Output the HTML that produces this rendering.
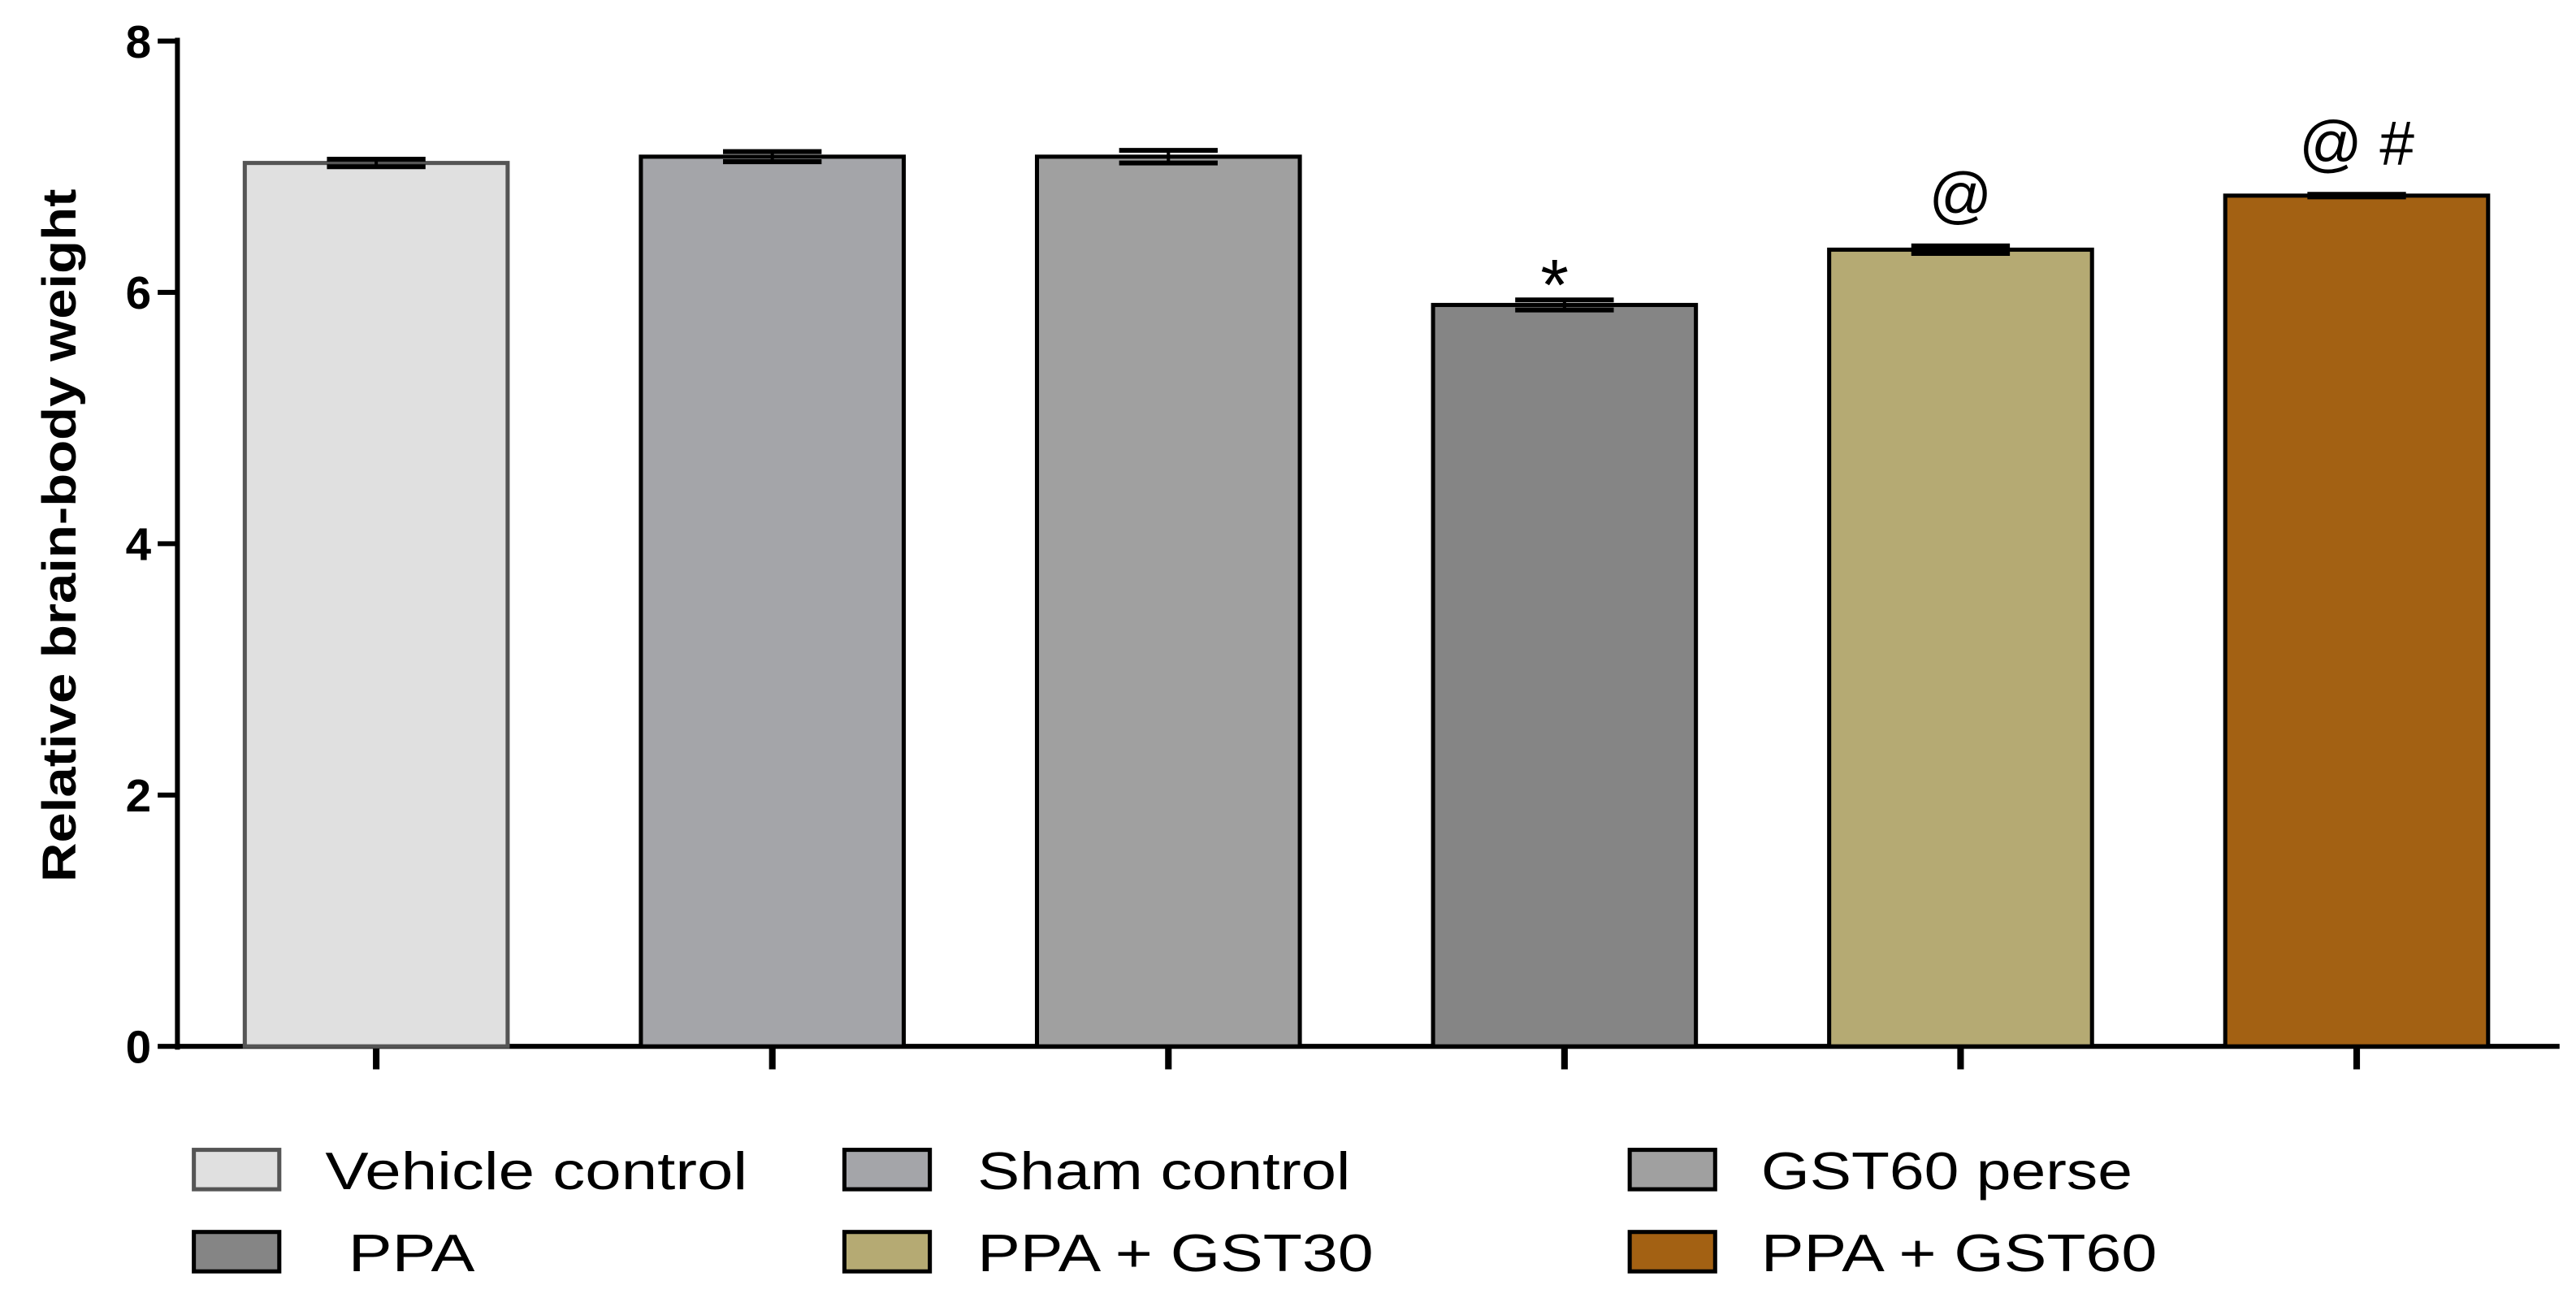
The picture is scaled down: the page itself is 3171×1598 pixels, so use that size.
<!DOCTYPE html>
<html><head><meta charset="utf-8"><style>
html,body{margin:0;padding:0;background:#fff;}
svg{display:block;}
text{font-family:"Liberation Sans",Arial,sans-serif;}
</style></head><body>
<svg id="chart" width="3171" height="1598" viewBox="0 0 1568 790.2" preserveAspectRatio="none" xmlns="http://www.w3.org/2000/svg">
<g id="axes"></g><g id="bars"></g><g id="legend"></g>
</svg>
<script>
const categories = ["Vehicle control","Sham control","GST60 perse","PPA","PPA + GST30","PPA + GST60"];
const values = [7.03, 7.08, 7.08, 5.90, 6.34, 6.77];
const errors = [0.03, 0.04, 0.05, 0.04, 0.03, 0.01];
const annotations = ["", "", "", "*", "@", "@ #"];
const colors = ["#e0e0e0","#a4a5a9","#a0a0a0","#858585","#b5aa73","#a36113"];
const yTicks = [0, 2, 4, 6, 8];
const legendOrder = [0,1,2,3,4,5];
const legendWidths = [257, 227, 226, 77, 241, 241];

const NS = "http://www.w3.org/2000/svg";
const y0 = 637, y8 = 25, xAxis0 = 108, xAxis1 = 1558;
const yS = v => y0 - (y0 - y8) * v / 8;
const barX = i => 149 + i * 241.1;
const barW = 160;
function mk(tag, attrs, parent, txt){
  const e = document.createElementNS(NS, tag);
  for (const k in attrs) e.setAttribute(k, attrs[k]);
  if (txt !== undefined) e.textContent = txt;
  parent.appendChild(e); return e;
}
const axes = document.getElementById('axes');
const bars = document.getElementById('bars');
const legend = document.getElementById('legend');

const ya = mk('line',{x1:xAxis0,y1:y8-2,x2:xAxis0,y2:y0+2,stroke:'#000','stroke-width':3},axes);
 
const xa = mk('line',{x1:xAxis0,y1:y0,x2:xAxis1,y2:y0,stroke:'#000','stroke-width':3},axes);
 
yTicks.forEach(t=>{
  const y = yS(t);
  mk('line',{x1:xAxis0-12,y1:y,x2:xAxis0,y2:y,stroke:'#000','stroke-width':3},axes);
  const tl = mk('text',{x:xAxis0-16,y:y+10,'text-anchor':'end','font-size':28,'font-weight':'bold'},axes,String(t));
   
});
const yt = mk('text',{x:0,y:0,transform:'translate(46,326) rotate(-90)','text-anchor':'middle','font-size':29,'font-weight':'bold',textLength:422,lengthAdjust:'spacingAndGlyphs'},axes,'Relative brain-body weight');
 

values.forEach((v,i)=>{
  const x = barX(i), y = yS(v), cx = x + barW/2;
  mk('line',{x1:cx,y1:y0,x2:cx,y2:y0+14,stroke:'#000','stroke-width':4},axes);
  const r = mk('rect',{x:x,y:y,width:barW,height:y0-y,fill:colors[i],stroke:i===0?'#555':'#000','stroke-width':2.5},bars);
   
  const eTop = yS(v+errors[i]), eBot = yS(v-errors[i]);
  mk('line',{x1:cx,y1:eTop,x2:cx,y2:eBot,stroke:'#000','stroke-width':2},bars);
  mk('line',{x1:cx-30,y1:eTop,x2:cx+30,y2:eTop,stroke:'#000','stroke-width':3},bars);
  mk('line',{x1:cx-30,y1:eBot,x2:cx+30,y2:eBot,stroke:'#000','stroke-width':3},bars);
  if (annotations[i]) {
    const a = mk('text',{x:cx-(i===3?6:0),y:eTop-(i===3?-6:18),'text-anchor':'middle','font-size':i===3?44:38},bars,annotations[i]);
     
  }
});

const lx = [118, 514, 992], ly = [700, 750], tx = [198, 595, 1072];
legendOrder.forEach((ci,k)=>{
  const col = k % 3, row = Math.floor(k/3);
  const g = mk('g',{},legend);
   
  mk('rect',{x:lx[col],y:ly[row],width:52,height:24,fill:colors[ci],stroke:ci===0?'#555':'#000','stroke-width':2.5},g);
  mk('text',{x:tx[col]+(ci===3?14:0),y:ly[row]+24,'font-size':32,textLength:legendWidths[ci],lengthAdjust:'spacingAndGlyphs'},g,categories[ci]);
});
</script>
</body></html>
